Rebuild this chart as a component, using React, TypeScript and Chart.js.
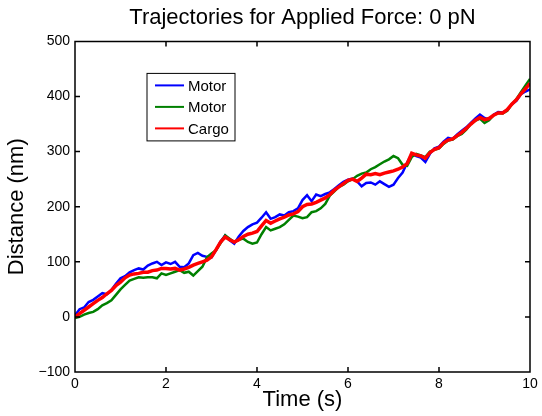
import React, { useEffect, useRef } from "react";
import { Chart, registerables } from "chart.js";

Chart.register(...registerables);

const TITLE = "Trajectories for Applied Force: 0 pN";
const X_LABEL = "Time (s)";
const Y_LABEL = "Distance (nm)";
const SERIES_LABELS = ["Motor", "Motor", "Cargo"];
const SERIES_COLORS = ["#0000ff", "#008000", "#ff0000"];
const SERIES_WIDTHS = [2.5, 2.5, 3.5];

// sample times (s), 0 .. 10 every 0.1 s
const TIME = [
  0, 0.1, 0.2, 0.3, 0.4, 0.5, 0.6, 0.7, 0.8, 0.9,
  1, 1.1, 1.2, 1.3, 1.4, 1.5, 1.6, 1.7, 1.8, 1.9,
  2, 2.1, 2.2, 2.3, 2.4, 2.5, 2.6, 2.7, 2.8, 2.9,
  3, 3.1, 3.2, 3.3, 3.4, 3.5, 3.6, 3.7, 3.8, 3.9,
  4, 4.1, 4.2, 4.3, 4.4, 4.5, 4.6, 4.7, 4.8, 4.9,
  5, 5.1, 5.2, 5.3, 5.4, 5.5, 5.6, 5.7, 5.8, 5.9,
  6, 6.1, 6.2, 6.3, 6.4, 6.5, 6.6, 6.7, 6.8, 6.9,
  7, 7.1, 7.2, 7.3, 7.4, 7.5, 7.6, 7.7, 7.8, 7.9,
  8, 8.1, 8.2, 8.3, 8.4, 8.5, 8.6, 8.7, 8.8, 8.9,
  9, 9.1, 9.2, 9.3, 9.4, 9.5, 9.6, 9.7, 9.8, 9.9,
  10,
];

const MOTOR_1 = [
  3, 14, 17, 27, 31, 37, 43, 41, 49, 60,
  70, 74, 81, 85, 88, 86, 93, 97, 100, 94,
  99, 96, 100, 91, 90, 97, 112, 116, 111, 109,
  108, 121, 137, 148, 139, 133, 146, 156, 163, 168,
  171, 180, 190, 178, 181, 186, 184, 190, 192, 197,
  212, 221, 210, 222, 219, 223, 226, 232, 239, 245,
  249, 251, 246, 237, 243, 244, 240, 246, 241, 236,
  240, 252, 262, 280, 296, 292, 289, 281, 296, 306,
  309, 318, 325, 323, 331, 338, 344, 352, 360, 367,
  361, 358, 367, 372, 371, 376, 386, 392, 404, 409,
  413,
];

const MOTOR_2 = [
  -2, 0, 4, 7, 9, 14, 21, 25, 30, 40,
  50, 58, 66, 69, 72, 71, 72, 72, 70, 79,
  76, 79, 82, 85, 80, 82, 75, 83, 91, 108,
  115, 121, 134, 148, 142, 136, 140, 142, 136, 133,
  135, 150, 163, 157, 160, 163, 168, 176, 184, 182,
  179, 181, 190, 192, 197, 205, 220, 228, 236, 240,
  246, 250, 256, 260, 262, 268, 272, 277, 282, 286,
  292, 288, 276, 274, 290, 296, 293, 290, 300, 303,
  306, 314, 320, 322, 328, 332, 340, 350, 356, 360,
  352, 357, 366, 370, 369, 374, 386, 395, 408, 420,
  432,
];

const CARGO = [
  0, 6, 12, 18, 24, 30, 35, 42, 48, 57,
  63, 71, 76, 78, 79, 81, 81, 84, 85, 88,
  88, 87, 88, 85, 87, 90, 94, 97, 100, 103,
  109, 122, 136, 145, 140, 136, 140, 146, 150, 152,
  155, 165, 175, 170, 174, 178, 181, 185, 187, 191,
  200, 204, 205, 208, 212, 216, 222, 230, 236, 242,
  248, 250, 246, 252, 259, 258, 260, 258, 261, 263,
  265, 268, 272, 278, 297, 294, 292, 288, 298, 304,
  307, 316, 321, 323, 329, 335, 342, 350, 357, 362,
  358, 360, 366, 370, 370, 376, 386, 394, 405, 414,
  424,
];

const X_MIN = 0;
const X_MAX = 10;
const X_STEP = 2;
const Y_MIN = -100;
const Y_MAX = 500;
const Y_STEP = 100;

const FONT = "'Liberation Sans', Arial, Helvetica, sans-serif";

const framePlugin = {
  id: "matlabFrame",
  afterDatasetsDraw(chart: any) {
    const { ctx, chartArea: a, scales } = chart;
    const xs = scales.x;
    const ys = scales.y;
    const L = 5;
    ctx.save();
    ctx.strokeStyle = "#000";
    ctx.lineWidth = 1.5;
    ctx.beginPath();
    ctx.rect(a.left, a.top, a.right - a.left, a.bottom - a.top);
    xs.ticks.forEach((t: any) => {
      const px = xs.getPixelForValue(t.value);
      ctx.moveTo(px, a.bottom);
      ctx.lineTo(px, a.bottom - L);
      ctx.moveTo(px, a.top);
      ctx.lineTo(px, a.top + L);
    });
    ys.ticks.forEach((t: any) => {
      const py = ys.getPixelForValue(t.value);
      ctx.moveTo(a.left, py);
      ctx.lineTo(a.left + L, py);
      ctx.moveTo(a.right, py);
      ctx.lineTo(a.right - L, py);
    });
    ctx.stroke();
    ctx.restore();
  },
};

const boxLegendPlugin = {
  id: "boxLegend",
  afterDraw(chart: any) {
    const { ctx, chartArea: a } = chart;
    const ds = chart.data.datasets;
    const left = a.left + 72;
    const top = a.top + 32;
    const w = 88;
    const rowH = 21.5;
    const h = 11 + rowH * ds.length - 8;
    ctx.save();
    ctx.fillStyle = "#fff";
    ctx.fillRect(left, top, w, h);
    ctx.strokeStyle = "#000";
    ctx.lineWidth = 1;
    ctx.strokeRect(left, top, w, h);
    ctx.font = `15px ${FONT}`;
    ctx.textBaseline = "middle";
    ctx.textAlign = "left";
    ds.forEach((d: any, i: number) => {
      const y = top + 12 + i * rowH;
      ctx.strokeStyle = d.borderColor;
      ctx.lineWidth = 2;
      ctx.beginPath();
      ctx.moveTo(left + 8, y);
      ctx.lineTo(left + 37, y);
      ctx.stroke();
      ctx.fillStyle = "#000";
      ctx.fillText(d.label, left + 41, y + 1);
    });
    ctx.restore();
  },
};

export default function App() {
  const canvasRef = useRef<HTMLCanvasElement | null>(null);

  useEffect(() => {
    const canvas = canvasRef.current;
    if (!canvas) return;
    const series = [MOTOR_1, MOTOR_2, CARGO];
    const chart = new Chart(canvas, {
      type: "line",
      data: {
        datasets: series.map((vals, i) => ({
          label: SERIES_LABELS[i],
          data: vals.map((v, j) => ({ x: TIME[j], y: v })),
          borderColor: SERIES_COLORS[i],
          backgroundColor: SERIES_COLORS[i],
          borderWidth: SERIES_WIDTHS[i],
          pointRadius: 0,
          tension: 0,
          fill: false,
          order: 3 - i,
        })),
      },
      options: {
        responsive: false,
        animation: false,
        layout: { padding: { left: 0, right: 12, top: 0, bottom: 0 } },
        plugins: {
          legend: { display: false },
          tooltip: { enabled: false },
          title: {
            display: true,
            text: TITLE,
            fullSize: false,
            color: "#000",
            font: { family: FONT, size: 22, weight: "normal" },
            padding: { top: 5, bottom: 10 },
          },
        },
        scales: {
          x: {
            type: "linear",
            min: X_MIN,
            max: X_MAX,
            grid: { display: false, drawTicks: false },
            border: { display: false },
            ticks: {
              stepSize: X_STEP,
              color: "#000",
              font: { family: FONT, size: 14 },
              padding: 4,
              maxRotation: 0,
            },
            title: {
              display: true,
              text: X_LABEL,
              color: "#000",
              font: { family: FONT, size: 22 },
              padding: { top: 0, bottom: 3 },
            },
            afterFit(scale: any) {
              scale.height = 44;
            },
          },
          y: {
            type: "linear",
            min: Y_MIN,
            max: Y_MAX,
            grid: { display: false, drawTicks: false },
            border: { display: false },
            ticks: {
              stepSize: Y_STEP,
              color: "#000",
              font: { family: FONT, size: 14 },
              padding: 5,
              callback: (v: any) => String(v).replace("-", "\u2212"),
            },
            title: {
              display: true,
              text: Y_LABEL,
              color: "#000",
              font: { family: FONT, size: 22 },
              padding: { top: 4, bottom: 0 },
            },
            afterFit(scale: any) {
              scale.width = 75;
            },
          },
        },
      },
      plugins: [framePlugin, boxLegendPlugin],
    });
    return () => chart.destroy();
  }, []);

  return (
    <div style={{ position: "absolute", left: 0, top: 0, width: 542, height: 416, background: "#fff" }}>
      <canvas ref={canvasRef} width={542} height={416} />
    </div>
  );
}
